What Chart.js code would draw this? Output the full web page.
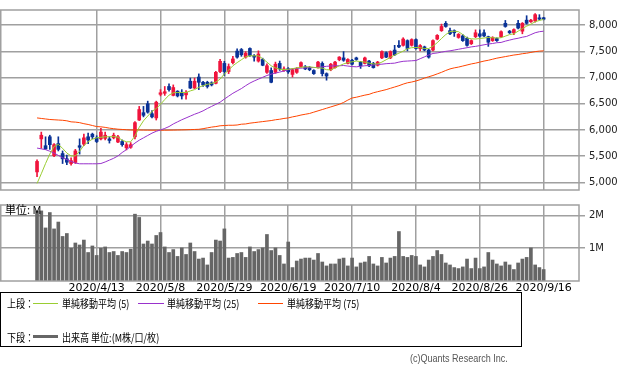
<!DOCTYPE html>
<html><head><meta charset="utf-8">
<script src="https://cdn.jsdelivr.net/npm/chart.js@4"></script>
<style>
body{margin:0;width:633px;height:375px;background:#fff;position:relative;overflow:hidden;font-family:"DejaVu Sans",sans-serif}
#c1{position:absolute;left:0;top:0}
#c2{position:absolute;left:0;top:195px}
.t{position:absolute;font-size:11px;white-space:nowrap;line-height:12px;color:#000;font-family:"Noto Sans CJK JP","DejaVu Sans",sans-serif}
.cd{transform:scaleX(0.82);transform-origin:0 50%}
.ln{position:absolute;height:1px}
#legend{position:absolute;left:0;top:292px;width:522px;height:55px;border:1px solid #000;box-sizing:border-box}
</style></head>
<body>
<canvas id="c1" width="633" height="200"></canvas>
<canvas id="c2" width="633" height="105"></canvas>
<div id="legend"></div>
<div class="t cd" style="left:7px;top:297px">上段：</div>
<div class="ln" style="left:33px;top:303px;width:25px;background:#9acd32"></div>
<div class="t cd" style="left:62px;top:297px">単純移動平均 (5)</div>
<div class="ln" style="left:138px;top:303px;width:26px;background:#9932cc"></div>
<div class="t cd" style="left:167px;top:297px">単純移動平均 (25)</div>
<div class="ln" style="left:258px;top:303px;width:25px;background:#ff4500"></div>
<div class="t cd" style="left:287px;top:297px">単純移動平均 (75)</div>
<div class="t cd" style="left:7px;top:331px">下段：</div>
<div class="ln" style="left:33px;top:335px;width:25px;height:3px;background:#666"></div>
<div class="t cd" style="left:62px;top:331px">出来高 単位:(M株/口/枚)</div>
<div class="t" style="left:5px;top:203px">単位: M</div>
<div class="t cd" style="left:410px;top:352px;font-family:'Liberation Sans','DejaVu Sans',sans-serif;color:#555">(c)Quants Research Inc.</div>
<script>
const tickIdx = [14, 29, 44, 59, 74, 89, 104, 119];
const tickLabels = ["2020/4/13","2020/5/8","2020/5/29","2020/6/19","2020/7/10","2020/8/4","2020/8/26","2020/9/16"];
const priceTicks = [5000,5500,6000,6500,7000,7500,8000];
const volTicks = [1,2];

const opens = [5200,5830,5700,5870,5510,5740,5550,5450,5360,5380,
5700,5730,5870,5920,5850,5830,5840,5830,5850,5770,
5780,5660,5670,5870,6190,6330,6500,6310,6230,6680,
6700,6830,6660,6740,6720,6670,6930,6800,7010,6910,
6910,6900,6890,7115,7270,7115,7285,7505,7535,7390,
7555,7415,7315,7345,7100,7135,7100,7270,7135,7170,
7060,7100,7210,7205,7190,7135,7190,7270,7075,7150,
7190,7340,7375,7270,7330,7375,7295,7270,7315,7270,
7235,7375,7475,7375,7525,7615,7615,7705,7615,7725,
7550,7585,7525,7525,7735,7895,8035,7895,7895,7765,
7795,7750,7645,7780,7835,7855,7780,7705,7745,7780,
8035,7885,7855,8035,7885,8095,8065,8080,8140,8140];
const highs = [5430,5960,5870,5900,5740,5870,5600,5520,5470,5630,
5830,5920,5940,5940,5890,6030,5960,5870,5940,5900,
5810,5760,5760,6160,6450,6450,6550,6370,6550,6770,
6830,6880,6860,6750,6770,6750,6990,6990,7070,6930,
6930,6920,7120,7350,7310,7260,7405,7550,7555,7495,
7565,7440,7510,7370,7260,7185,7295,7315,7205,7190,
7170,7190,7300,7230,7210,7150,7310,7300,7090,7270,
7310,7400,7495,7360,7350,7390,7310,7390,7330,7290,
7310,7510,7490,7510,7615,7705,7760,7720,7740,7740,
7630,7600,7540,7720,7820,8020,8070,7945,7910,7840,
7820,7770,7720,7910,7910,7910,7790,7780,7760,7890,
8090,7900,7930,8090,8050,8180,8110,8220,8200,8150];
const lows = [5110,5650,5630,5630,5490,5600,5360,5340,5330,5360,
5540,5700,5740,5830,5760,5810,5810,5750,5830,5760,
5690,5620,5650,5830,6180,6250,6320,6230,6190,6650,
6660,6740,6650,6630,6590,6590,6790,6790,6770,6830,
6800,6840,6880,7095,7040,7075,7260,7370,7405,7370,
7405,7315,7295,7225,7080,6900,7080,7135,7115,7080,
7010,7080,7200,7150,7130,7060,7180,7030,6950,7130,
7180,7320,7310,7260,7240,7330,7175,7260,7210,7180,
7220,7360,7380,7360,7420,7570,7600,7510,7600,7540,
7510,7510,7370,7510,7720,7880,7960,7820,7785,7750,
7690,7600,7630,7760,7770,7780,7595,7690,7690,7760,
7960,7840,7820,7930,7835,8020,8050,8055,8100,8100];
const closes = [5400,5900,5640,5720,5720,5630,5450,5385,5415,5600,
5670,5850,5810,5870,5780,5960,5900,5800,5900,5870,
5720,5720,5720,6140,6390,6280,6340,6250,6530,6710,
6730,6770,6810,6650,6650,6720,6800,6930,6910,6860,
6830,6860,7100,7310,7115,7210,7355,7390,7435,7465,
7420,7390,7450,7235,7225,6910,7255,7165,7165,7110,
7150,7165,7285,7165,7150,7075,7295,7075,7030,7255,
7295,7390,7330,7345,7255,7345,7225,7375,7225,7190,
7295,7495,7390,7495,7435,7585,7735,7555,7725,7555,
7610,7525,7390,7705,7805,7975,7975,7835,7855,7825,
7705,7615,7705,7855,7790,7795,7675,7765,7705,7875,
7975,7855,7915,7945,8035,8035,8095,8200,8115,8115];
const ma5 = [4980,5165,5360,5540,5685,5725,5650,5560,5505,5505,
5595,5705,5775,5825,5850,5860,5870,5870,5875,5860,
5805,5775,5775,5885,6050,6175,6265,6355,6410,6490,
6580,6665,6710,6715,6715,6715,6745,6770,6815,6845,
6870,6890,6915,6970,7070,7140,7225,7285,7340,7395,
7415,7415,7415,7360,7295,7225,7185,7160,7150,7160,
7170,7185,7195,7205,7205,7195,7185,7180,7150,7145,
7185,7225,7260,7285,7300,7315,7305,7295,7275,7260,
7260,7295,7340,7385,7430,7465,7505,7550,7570,7575,
7570,7555,7555,7600,7665,7745,7820,7875,7885,7875,
7820,7755,7740,7735,7745,7755,7765,7760,7755,7760,
7790,7820,7835,7885,7935,7980,8020,8065,8090,8110];
const ma25 = [5655,5640,5625,5595,5560,5515,5470,5435,5400,5370,
5355,5355,5355,5355,5355,5360,5390,5425,5460,5505,
5570,5625,5685,5750,5805,5850,5895,5940,5975,6000,
6030,6065,6115,6155,6195,6230,6265,6300,6330,6365,
6410,6450,6490,6530,6590,6645,6700,6745,6790,6845,
6895,6935,6970,7005,7040,7065,7085,7105,7125,7150,
7165,7175,7180,7185,7190,7190,7195,7205,7215,7220,
7225,7225,7230,7220,7210,7205,7215,7225,7230,7240,
7250,7255,7265,7270,7275,7295,7310,7315,7320,7325,
7360,7395,7430,7460,7470,7485,7500,7510,7525,7540,
7555,7570,7585,7595,7610,7625,7640,7650,7665,7670,
7695,7715,7735,7750,7770,7785,7820,7855,7875,7885];
const ma75 = [6230,6220,6210,6200,6195,6190,6185,6175,6155,6150,
6140,6120,6105,6085,6065,6060,6050,6035,6025,6015,
6010,6005,6000,6000,6000,5998,5997,5996,5996,5995,
5996,5997,5998,6000,6002,6004,6007,6010,6013,6025,
6040,6055,6065,6080,6085,6090,6090,6095,6110,6115,
6130,6140,6150,6160,6170,6180,6195,6205,6220,6230,
6250,6265,6285,6300,6315,6340,6365,6390,6415,6440,
6465,6490,6525,6570,6610,6625,6645,6665,6680,6710,
6730,6750,6770,6795,6820,6845,6875,6900,6915,6935,
6960,6990,7015,7040,7070,7100,7135,7165,7185,7200,
7220,7240,7260,7275,7295,7315,7330,7350,7370,7385,
7400,7415,7430,7440,7455,7465,7480,7495,7505,7510];
const volumes = [2.14,2.14,1.62,2.09,1.59,1.80,1.36,1.45,1.00,1.16,
1.10,1.25,0.87,1.07,0.78,1.00,1.04,0.87,0.90,0.78,
0.90,0.87,0.97,2.04,1.94,1.13,1.22,1.13,1.39,1.48,
1.04,0.87,0.96,0.75,1.01,0.81,1.16,0.90,0.67,0.70,
0.49,0.87,1.25,1.22,1.59,0.70,0.72,0.84,0.87,0.72,
1.04,0.90,0.96,1.01,1.42,0.93,1.01,0.78,0.52,1.19,
0.41,0.61,0.67,0.70,0.70,0.64,0.84,0.58,0.46,0.52,
0.52,0.67,0.70,0.46,0.70,0.43,0.55,0.58,0.75,0.52,
0.46,0.72,0.55,0.70,0.75,1.51,0.75,0.72,0.78,0.75,
0.49,0.43,0.64,0.75,0.93,0.81,0.55,0.49,0.41,0.38,
0.43,0.67,0.38,0.70,0.38,0.43,0.87,0.64,0.52,0.46,
0.58,0.49,0.35,0.55,0.67,0.72,1.01,0.49,0.41,0.35];

const RED = '#f0143c', BLUE = '#0a3296', GRID = '#a0a0a0';
const xMin = -8.7, xMax = 127.3;
Chart.defaults.font.family = "'DejaVu Sans', sans-serif";

const frame = {id:'frame', afterDraw(c){const a=c.chartArea, ctx=c.ctx; ctx.save(); ctx.strokeStyle=GRID; ctx.lineWidth=1.5; ctx.strokeRect(a.left+0.75, a.top, a.right-a.left-0.75, a.bottom-a.top); ctx.restore();}};

const idx = opens.map((_, i) => i);
const col = idx.map(i => closes[i] >= opens[i] ? RED : BLUE);
const xAxisBase = {type:'linear', min:xMin, max:xMax, offset:false,
  afterBuildTicks: s => { s.ticks = tickIdx.map(v => ({value:v})); },
  grid:{color:GRID, lineWidth:1.5, drawTicks:false, offset:false}, border:{display:false}};

new Chart(document.getElementById('c1'), {
  type:'bar',
  data:{datasets:[
    {type:'line', data:idx.map(i=>({x:i,y:ma5[i]})), borderColor:'#9acd32', borderWidth:1, pointRadius:0, tension:0, order:0},
    {type:'line', data:idx.map(i=>({x:i,y:ma25[i]})), borderColor:'#9932cc', borderWidth:1, pointRadius:0, tension:0, order:0},
    {type:'line', data:idx.map(i=>({x:i,y:ma75[i]})), borderColor:'#ff4500', borderWidth:1, pointRadius:0, tension:0, order:0},
    {data:idx.map(i=>({x:i,y:[opens[i],closes[i]]})), backgroundColor:col, barThickness:3, grouped:false, borderWidth:0, order:1},
    {data:idx.map(i=>({x:i,y:[lows[i],highs[i]]})), backgroundColor:col, barThickness:1, grouped:false, borderWidth:0, order:2}
  ]},
  options:{responsive:false, animation:false, events:[],
    layout:{padding:{top:1,left:0,right:0,bottom:0}},
    plugins:{legend:{display:false}, tooltip:{enabled:false}},
    scales:{
      x:Object.assign({}, xAxisBase, {ticks:{display:false}, afterFit:s=>{s.height=9;}}),
      y:{position:'right', min:4855, max:8289,
        afterBuildTicks: s => { s.ticks = priceTicks.map(v => ({value:v})); },
        ticks:{callback:v=>v.toLocaleString('en-US'), font:{size:10}, color:'#222', padding:4},
        grid:{color:GRID, lineWidth:1.5, tickLength:6}, border:{display:false},
        afterFit:s=>{s.width=54;}}
    }},
  plugins:[frame]
});

new Chart(document.getElementById('c2'), {
  type:'bar',
  data:{datasets:[
    {data:idx.map(i=>({x:i,y:volumes[i]})), backgroundColor:'#666', barThickness:3, borderWidth:0}
  ]},
  options:{responsive:false, animation:false, events:[],
    layout:{padding:{top:6,left:0,right:0,bottom:0}},
    plugins:{legend:{display:false}, tooltip:{enabled:false}},
    scales:{
      x:Object.assign({}, xAxisBase, {ticks:{callback:v=>tickLabels[tickIdx.indexOf(v)], font:{size:11}, color:'#000', padding:1, autoSkip:false, maxRotation:0}, afterFit:s=>{s.height=19;}}),
      y:{position:'right', min:0, max:2.32,
        afterBuildTicks: s => { s.ticks = volTicks.map(v => ({value:v})); },
        ticks:{callback:v=>v+'M', font:{size:10}, color:'#222', padding:4},
        grid:{color:GRID, lineWidth:1.5, tickLength:6}, border:{display:false},
        afterFit:s=>{s.width=54;}}
    }},
  plugins:[frame]
});
</script>
</body></html>
